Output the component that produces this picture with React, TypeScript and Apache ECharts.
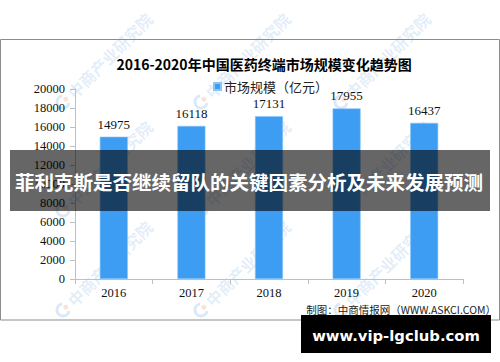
import React, { useEffect, useRef } from "react";
import * as echarts from "echarts";

const years = ["2016", "2017", "2018", "2019", "2020"];
const marketSize = [14975, 16118, 17131, 17955, 16437];
const chartTitle = "2016-2020年中国医药终端市场规模变化趋势图";
const seriesName = "市场规模（亿元）";
const bannerText = "菲利克斯是否继续留队的关键因素分析及未来发展预测";
const sourceText = "制图：中商情报网（WWW.ASKCI.COM）";
const siteText = "www.vip-lgclub.com";
const watermarkText = "中商产业研究院";
const wmCols = [63, 201, 341];
const wmRows = [102, 210, 310];

export default function App() {
  const ref = useRef<HTMLDivElement>(null);
  useEffect(() => {
    if (!ref.current) return;
    const chart = echarts.init(ref.current, undefined, { renderer: "svg" });
    const watermarks: any[] = [];
    wmRows.forEach((ry) => {
      wmCols.forEach((cx) => {
        watermarks.push({
          type: "group",
          x: cx,
          y: ry,
          rotation: Math.PI / 4,
          z: 50,
          silent: true,
          children: [
            {
              type: "arc",
              shape: { cx: 0, cy: 0, r: 6, startAngle: Math.PI * 0.3, endAngle: Math.PI * 1.7 },
              style: { stroke: "rgba(110,165,225,0.25)", lineWidth: 3, fill: "none" },
            },
            {
              type: "circle",
              shape: { cx: 4, cy: 0, r: 2.5 },
              style: { fill: "rgba(240,140,90,0.25)" },
            },
            {
              type: "text",
              x: 10,
              y: 0,
              style: {
                text: watermarkText,
                fontSize: 16,
                fontWeight: "bold",
                fontFamily: "Noto Sans CJK SC",
                fill: "rgba(110,165,225,0.2)",
                textAlign: "left",
                textVerticalAlign: "middle",
              },
            },
          ],
        });
      });
    });
    chart.setOption({
      animation: false,
      backgroundColor: "#ffffff",
      title: {
        text: chartTitle,
        left: 259,
        top: 52,
        textAlign: "center",
        textStyle: {
          fontSize: 14,
          fontWeight: "bold",
          color: "#000",
          fontFamily: "Noto Sans CJK SC",
        },
      },
      legend: {
        left: 208,
        top: 75,
        itemWidth: 7,
        itemHeight: 7,
        itemGap: 4,
        icon: "rect",
        data: [seriesName],
        textStyle: { fontSize: 13, color: "#222", fontFamily: "Noto Sans CJK SC", padding: [0, 0, 0, -2] },
      },
      grid: { left: 75, right: 37, top: 89, bottom: 83 },
      xAxis: {
        type: "category",
        data: years,
        axisLine: { lineStyle: { color: "#bfbfbf", width: 1 } },
        axisTick: { show: true, length: 5, lineStyle: { color: "#bfbfbf" } },
        axisLabel: { fontSize: 12.5, color: "#111", margin: 7, fontFamily: "Liberation Serif" },
      },
      yAxis: {
        type: "value",
        min: 0,
        max: 20000,
        interval: 2000,
        axisLine: { show: true, lineStyle: { color: "#bfbfbf", width: 1 } },
        axisTick: { show: true, length: 5, lineStyle: { color: "#bfbfbf" } },
        splitLine: { show: false },
        axisLabel: {
          fontSize: 12.5,
          color: "#111",
          margin: 10,
          fontFamily: "Liberation Serif",
          formatter: (v: number) => String(v),
        },
      },
      series: [
        {
          name: seriesName,
          type: "bar",
          data: marketSize,
          barWidth: 28,
          itemStyle: { color: "#3d9df2", borderColor: "#8cc5f7", borderWidth: 0.6 },
          label: {
            show: true,
            position: "top",
            distance: 6,
            fontSize: 13,
            color: "#111",
            fontFamily: "Liberation Serif",
          },
        },
      ],
      graphic: [
        {
          type: "rect",
          z: 40,
          silent: true,
          shape: { x: 0.5, y: 39.5, width: 499, height: 280.5 },
          style: { fill: "none", stroke: "#8c8c8c", lineWidth: 1 },
        },
        ...watermarks,
        {
          type: "text",
          z: 60,
          x: 496,
          y: 309,
          style: {
            text: sourceText,
            fontSize: 10.5,
            fill: "#222",
            fontFamily: "Noto Sans CJK SC",
            textAlign: "right",
            textVerticalAlign: "middle",
          },
        },
        {
          type: "rect",
          z: 100,
          silent: true,
          shape: { x: 10, y: 150, width: 480, height: 61 },
          style: { fill: "rgba(0,0,0,0.6)" },
        },
        {
          type: "text",
          z: 101,
          x: 249,
          y: 181,
          style: {
            text: bannerText,
            fontSize: 19.5,
            fontWeight: "bold",
            fill: "#ffffff",
            fontFamily: "Noto Sans CJK SC",
            textAlign: "center",
            textVerticalAlign: "middle",
          },
        },
        {
          type: "rect",
          z: 100,
          silent: true,
          shape: { x: 301, y: 315, width: 190, height: 38 },
          style: { fill: "#000000" },
        },
        {
          type: "text",
          z: 101,
          x: 396,
          y: 335,
          style: {
            text: siteText,
            fontSize: 14.8,
            fontWeight: "bold",
            fill: "#ffffff",
            fontFamily: "DejaVu Sans",
            textAlign: "center",
            textVerticalAlign: "middle",
          },
        },
      ],
    });
    return () => chart.dispose();
  }, []);
  return (
    <div
      ref={ref}
      style={{ position: "fixed", left: 0, top: 0, width: 500, height: 362 }}
    />
  );
}
